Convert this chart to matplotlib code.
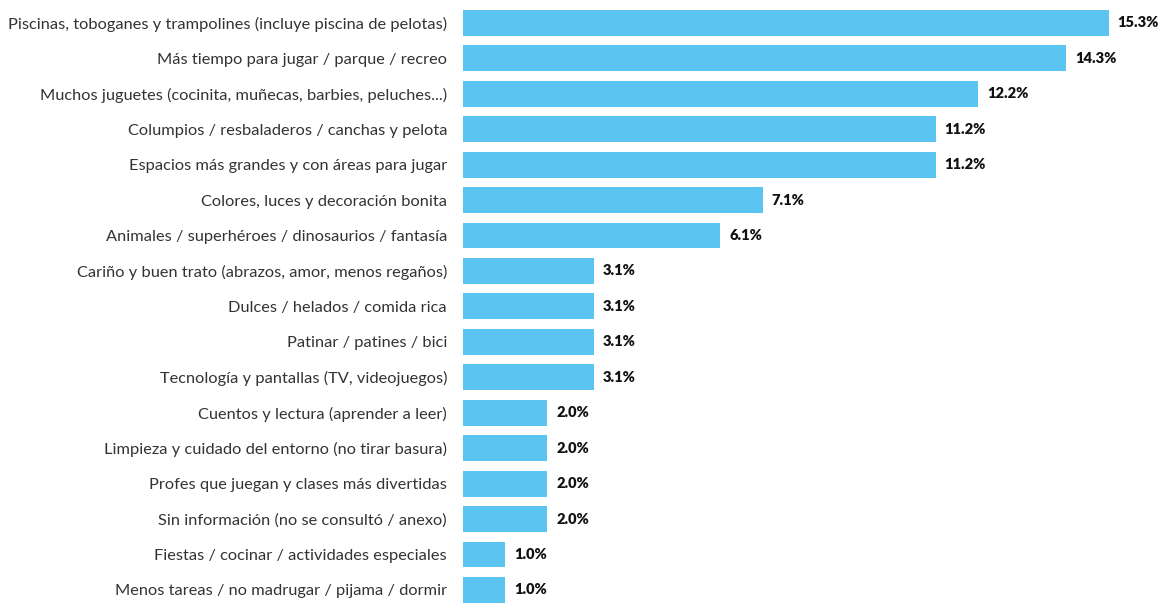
import matplotlib.pyplot as plt

categorias = [
    "Piscinas, toboganes y trampolines (incluye piscina de pelotas)",
    "Más tiempo para jugar / parque / recreo",
    "Muchos juguetes (cocinita, muñecas, barbies, peluches...)",
    "Columpios / resbaladeros / canchas y pelota",
    "Espacios más grandes y con áreas para jugar",
    "Colores, luces y decoración bonita",
    "Animales / superhéroes / dinosaurios / fantasía",
    "Cariño y buen trato (abrazos, amor, menos regaños)",
    "Dulces / helados / comida rica",
    "Patinar / patines / bici",
    "Tecnología y pantallas (TV, videojuegos)",
    "Cuentos y lectura (aprender a leer)",
    "Limpieza y cuidado del entorno (no tirar basura)",
    "Profes que juegan y clases más divertidas",
    "Sin información (no se consultó / anexo)",
    "Fiestas / cocinar / actividades especiales",
    "Menos tareas / no madrugar / pijama / dormir",
]
porcentajes = [15.3, 14.3, 12.2, 11.2, 11.2, 7.1, 6.1, 3.1, 3.1, 3.1, 3.1,
               2.0, 2.0, 2.0, 2.0, 1.0, 1.0]

plt.rcParams["font.family"] = ["Lato", "DejaVu Sans"]

fig = plt.figure(figsize=(11.64, 6.03), dpi=100)
ax = fig.add_axes([463 / 1164, -0.0078, 1 - 463 / 1164, 0.9994])

pos = range(len(categorias))
ax.barh(pos, porcentajes, height=0.73, color="#5bc4f1")
ax.set_ylim(len(categorias) - 0.5, -0.5)
ax.set_xlim(0, (1164 - 463) / 42.2)

for y, v in zip(pos, porcentajes):
    ax.annotate(f"{v:.1f}%", (v, y), xytext=(6.5, 0), textcoords="offset points",
                va="center", ha="left", fontsize=10.5, fontweight="heavy", color="#111111")

ax.set_yticks(list(pos))
ax.set_yticklabels(categorias, fontsize=11.8, color="#333333")
ax.tick_params(axis="y", length=0, pad=11.5)
ax.set_xticks([])
for s in ax.spines.values():
    s.set_visible(False)

fig.savefig("out.png", dpi=100)
